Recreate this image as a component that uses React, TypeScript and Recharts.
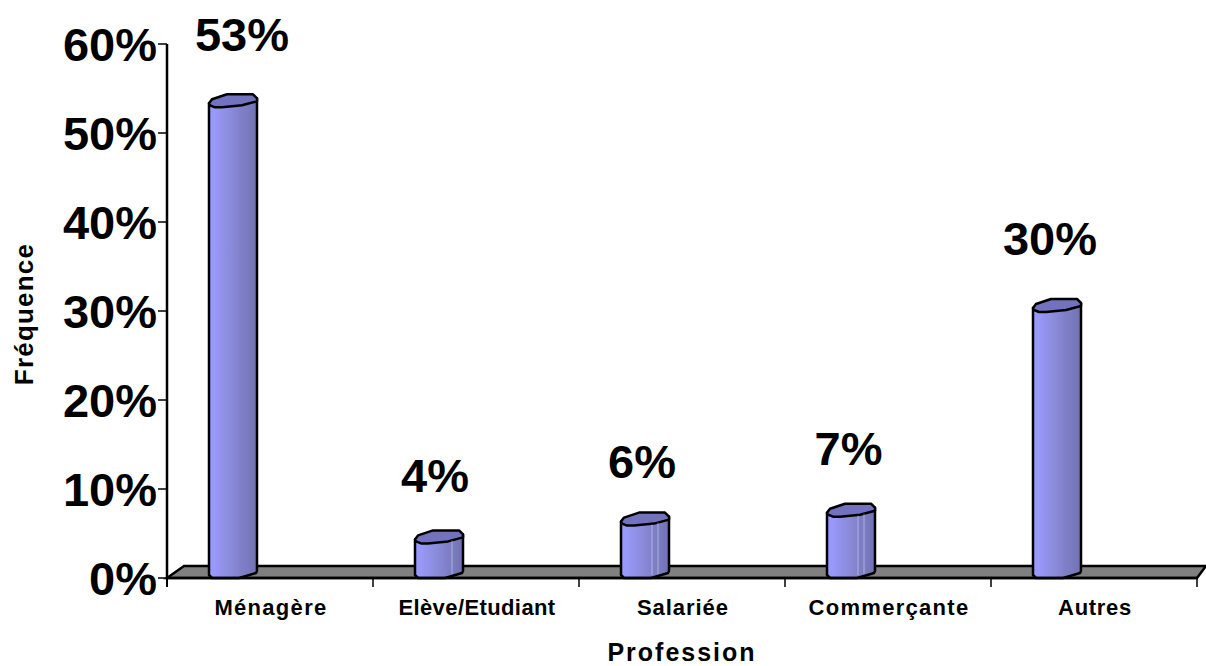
import { BarChart, Bar, XAxis, YAxis, ReferenceArea, LabelList, Label } from "recharts";

const professions = ["Ménagère", "Elève/Etudiant", "Salariée", "Commerçante", "Autres"];
const frequencies = [53, 4, 6, 7, 30];
const percentTicks = [0, 10, 20, 30, 40, 50, 60];
const floorDepth = 1.35;

const data = professions.map((profession, i) => ({ profession, frequency: frequencies[i] }));

const FONT = "'Liberation Sans', Arial, sans-serif";
const BAND = 206;
// the fake 3D projection pushes the columns left of their category centre
const DEPTH_SHIFT = 37;

const bands = ["#9999ff", "#9999fb", "#9494ef", "#8f8fe6", "#8b8bdc", "#8585d2", "#7f7fc8", "#7c7cc2", "#7676bb", "#7070b2"];

// hand placement of the text around each column
const tickSpacing = [1.3, 0.4, 0.95, 1.3, 0.7];
const labelDx = [-28, -41, -40, -39.5, -44];
const labelDy = [-55, -50, -47, -51, -56];

function Cylinder({ x, y, width, height }: any) {
  const l = x - DEPTH_SHIFT;
  const r = l + width;
  const bottom = y + height;
  const body = `M${l} ${y - 3} L${l} ${bottom - 3} L${l + 3} ${bottom} L${l + 30} ${bottom} L${l + 37} ${bottom - 2} L${r - 1} ${bottom - 5} L${r} ${bottom - 7} L${r} ${y - 8} Z`;
  const top = `M${l} ${y - 3} L${l + 3} ${y - 7} L${l + 18} ${y - 12} L${l + 44} ${y - 12} L${r} ${y - 8} L${r} ${y - 5} L${l + 33} ${y - 1} L${l + 13} ${y + 1} L${l + 6} ${y + 1} L${l + 1} ${y - 1} Z`;
  const short = height < 80;
  return (
    <g>
      <g stroke="#000" strokeWidth={2.5} strokeLinejoin="round">
        <path d={body} fill="url(#columnShade)" />
        <path d={top} fill="#7272bf" />
      </g>
      {short && (
        <g stroke="#fff" strokeOpacity={0.4} strokeWidth={1}>
          {height > 40 && <line x1={l + 31} x2={l + 31} y1={y} y2={bottom - 3} />}
          <line x1={l + 37} x2={l + 37} y1={y - 2} y2={bottom - 4} />
        </g>
      )}
    </g>
  );
}

function FloorShape({ x, y, width, height }: any) {
  const d = `M${x} ${y + height} L${x + 17} ${y} L${x + width + 9} ${y} L${x + width} ${y + height} Z`;
  return <path d={d} fill="#808080" stroke="#000" strokeWidth={2.5} />;
}

function ProfessionTick({ x, y, payload, index }: any) {
  const tx = x + BAND / 2;
  return (
    <g>
      {index === 0 && <line x1={x - BAND / 2} x2={x - BAND / 2} y1={y - 8} y2={y + 1} stroke="#000" strokeWidth={2} />}
      <line x1={tx} x2={tx} y1={y - 8} y2={y + 1} stroke="#000" strokeWidth={1.5} />
      <text
        x={x + 1}
        y={y + 29}
        textAnchor="middle"
        fontFamily={FONT}
        fontWeight="bold"
        fontSize={22}
        letterSpacing={tickSpacing[index]}
        fill="#000"
      >
        {payload.value}
      </text>
    </g>
  );
}

function PercentTick({ x, y, payload }: any) {
  return (
    <text x={x + 1} y={y + 17} textAnchor="end" fontFamily={FONT} fontWeight="bold" fontSize={47} fill="#000">
      {payload.value}%
    </text>
  );
}

function ValueLabel({ x, y, width, value, index }: any) {
  return (
    <text
      x={x + width / 2 + labelDx[index]}
      y={y + labelDy[index]}
      textAnchor="middle"
      fontFamily={FONT}
      fontWeight="bold"
      fontSize={47}
      fill="#000"
    >
      {value}%
    </text>
  );
}

function ProfessionTitle({ viewBox }: any) {
  return (
    <text
      x={viewBox.x + viewBox.width / 2}
      y={viewBox.y + 83}
      textAnchor="middle"
      fontFamily={FONT}
      fontWeight="bold"
      fontSize={25}
      letterSpacing={2}
      fill="#000"
    >
      Profession
    </text>
  );
}

function FrequenceTitle({ viewBox }: any) {
  const cy = viewBox.y + viewBox.height / 2 + 3;
  return (
    <text
      x={33}
      y={cy}
      transform={`rotate(-90 33 ${cy})`}
      textAnchor="middle"
      fontFamily={FONT}
      fontWeight="bold"
      fontSize={26}
      letterSpacing={1.2}
      fill="#000"
    >
      Fréquence
    </text>
  );
}

export default function App() {
  return (
    <div style={{ position: "absolute", left: 0, top: 0 }}>
      <BarChart width={1206} height={666} data={data} barSize={48} margin={{ top: 44, right: 9, bottom: 0, left: 0 }}>
        <defs>
          <linearGradient id="columnShade" x1="0" y1="0" x2="1" y2="0">
            {bands.map((c, i) => (
              <stop key={i} offset={i / (bands.length - 1)} stopColor={c} />
            ))}
          </linearGradient>
        </defs>
        <XAxis
          dataKey="profession"
          interval={0}
          height={88}
          tick={ProfessionTick}
          tickLine={false}
          axisLine={{ stroke: "#000", strokeWidth: 2.5 }}
        >
          <Label content={ProfessionTitle} />
        </XAxis>
        <YAxis
          width={167}
          domain={[0, 60]}
          ticks={percentTicks}
          interval={0}
          tick={PercentTick}
          tickSize={9}
          tickLine={{ stroke: "#000", strokeWidth: 1.5 }}
          axisLine={{ stroke: "#000", strokeWidth: 2.5 }}
        >
          <Label content={FrequenceTitle} />
        </YAxis>
        <ReferenceArea y1={0} y2={floorDepth} shape={FloorShape} />
        <Bar dataKey="frequency" shape={Cylinder} isAnimationActive={false}>
          <LabelList dataKey="frequency" content={ValueLabel} />
        </Bar>
      </BarChart>
    </div>
  );
}
